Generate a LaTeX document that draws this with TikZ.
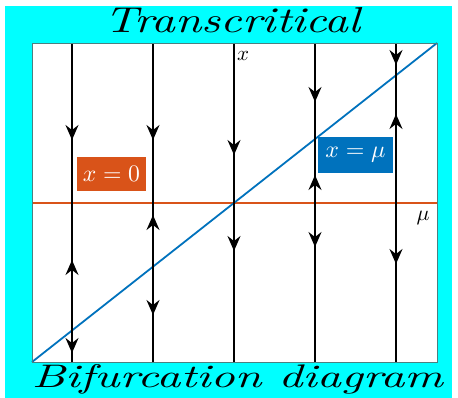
\documentclass[tikz,border=0pt]{standalone}
\usepackage{fontspec}
\usetikzlibrary{arrows.meta}
\definecolor{bgcyan}{HTML}{00FFFF}
\definecolor{mblue}{HTML}{0072BD}
\definecolor{morange}{HTML}{D95319}
\begin{document}
\begin{tikzpicture}[x=1pt,y=-1pt,
  flow/.style={line width=1.4pt, black},
  arr/.style={-{Stealth[length=15pt,width=13pt,inset=5pt]}, line width=1.4pt, black},
  lbl/.style={inner sep=0pt},
  boxlbl/.style={text=white, inner sep=0pt}]
\useasboundingbox (0,0) rectangle (458,398);
\fill[bgcyan] (5,6) rectangle (452,398);
\fill[white] (32,43) rectangle (437,362);
% corners
\coordinate (bl) at (32,362);
\coordinate (tr) at (437,43);
\coordinate (ol) at (32,203);
\coordinate (or) at (437,203);
% equilibrium branches
\draw[morange, line width=1.7pt] (ol) -- (or);
\draw[mblue, line width=1.8pt] (bl) -- (tr);
% vertical flow lines
\foreach \i/\xx in {1/72,2/153,3/234,4/315,5/396}{
  \coordinate (t\i) at (\xx,43);
  \coordinate (b\i) at (\xx,362);
  \draw[flow] (t\i) -- (b\i);
}
% arrowheads (down: tip lower; up: tip upper)
\foreach \xx/\tip in {72/140,72/353,153/140,153/315,234/155,234/251,315/102,315/247,396/65,396/264}{
  \coordinate (s) at (\xx,\tip-15);
  \coordinate (e) at (\xx,\tip);
  \draw[arr] (s) -- (e);
}
\foreach \xx/\tip in {72/260,153/215,315/175,396/114}{
  \coordinate (s) at (\xx,\tip+15);
  \coordinate (e) at (\xx,\tip);
  \draw[arr] (s) -- (e);
}
% frame
\draw[gray!60!teal, line width=0.6pt] (bl) rectangle (tr);
% labels
\node[lbl] (xlab) at (243,56) {\resizebox{12pt}{!}{$x$}};
\node[lbl] (mulab) at (423,218) {\resizebox{13pt}{!}{$\mu$}};
\node[boxlbl, fill=morange, minimum width=69pt, minimum height=34pt] (lab0) at (111.5,174) {\resizebox{57pt}{!}{$x=0$}};
\node[boxlbl, fill=mblue, minimum width=75pt, minimum height=36pt] (labmu) at (355.5,155) {\resizebox{60pt}{!}{$x=\mu$}};
% titles
\node[anchor=base, inner sep=0pt] (title) at (232.5,33) {\resizebox{256pt}{25pt}{\itshape Transcritical}};
\node[anchor=base, inner sep=0pt] (subtitle) at (237.5,387) {\resizebox{411pt}{23pt}{\itshape Bifurcation diagram}};
\end{tikzpicture}
\end{document}
